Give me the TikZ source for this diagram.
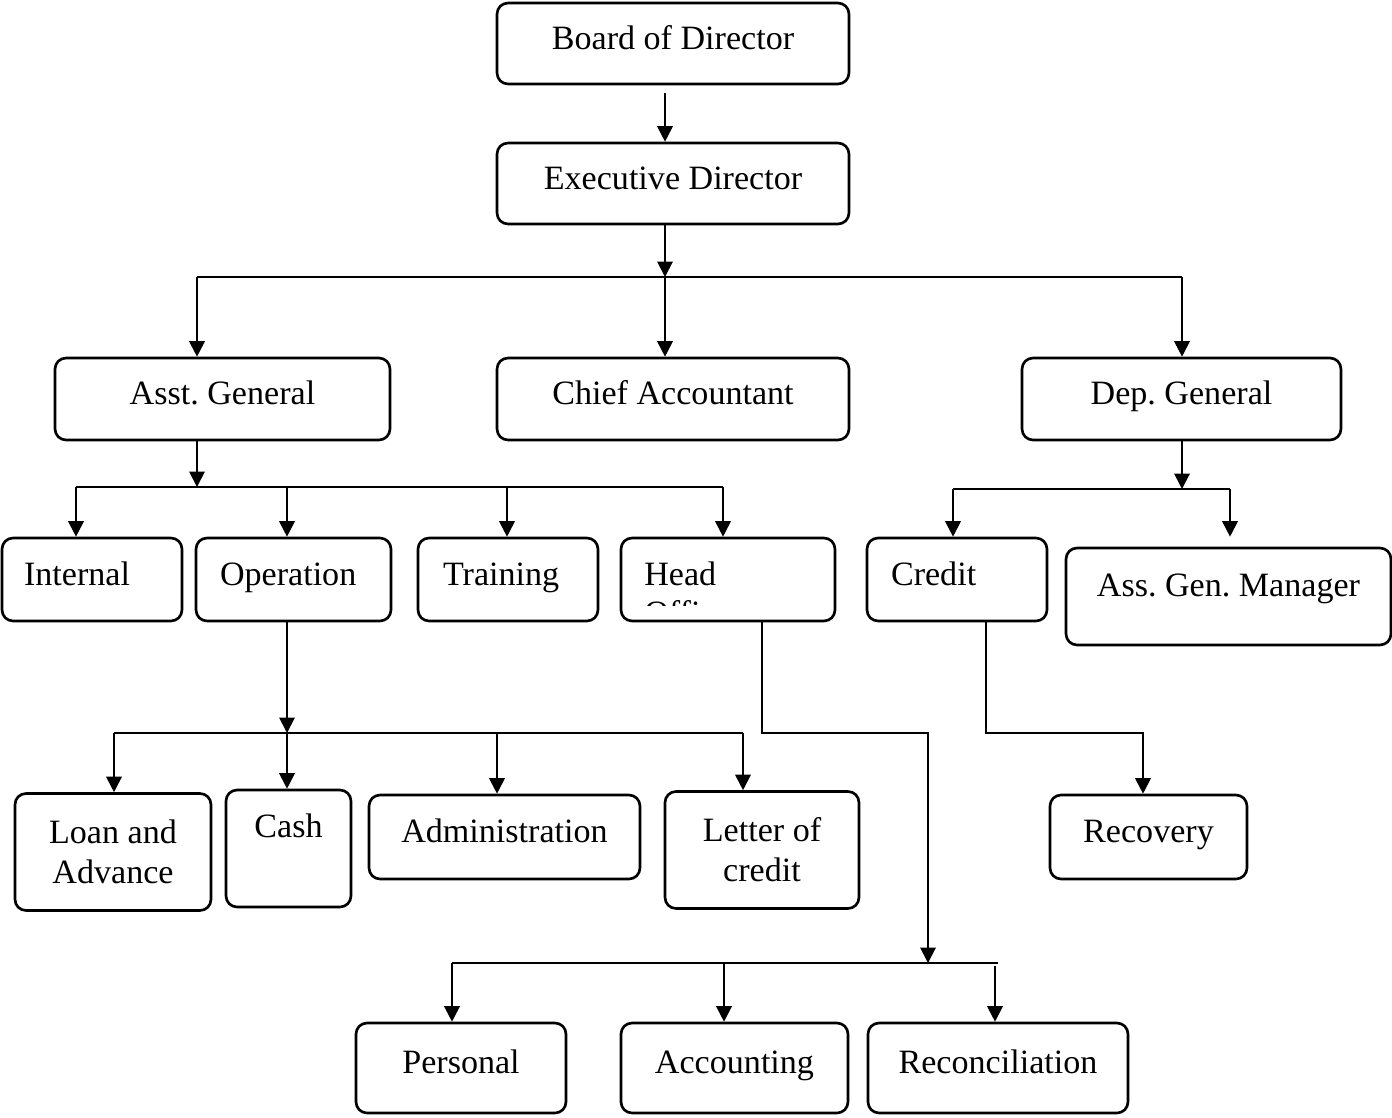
\documentclass[tikz,border=0pt]{standalone}
\usepackage{fontspec}
\setmainfont{Liberation Serif}
\usepackage{tikz}
\usetikzlibrary{arrows.meta}
\frenchspacing

\begin{document}
\begin{tikzpicture}[x=0.02cm,y=-0.02cm,
  mbox/.style={draw,line width=1.5pt,rounded corners=0.22cm,
    font=\fontsize{19.4}{22.7}\selectfont,align=center},
  box/.style={mbox,text height=12.3pt,text depth=5.5pt},
  lbox/.style={box,align=left,inner xsep=0.44cm},
  conn/.style={line width=1.1pt,-{Triangle[width=0.31cm,length=0.31cm]}},
  bus/.style={line width=1.1pt}]
\useasboundingbox (0,0) rectangle (1392,1118);

% top
\node[box,minimum width=7.04cm,minimum height=1.62cm] (board) at (673,43.5) {Board of Director};
\node[box,minimum width=7.04cm,minimum height=1.62cm] (exec) at (673,183.5) {Executive Director};

% second level
\node[box,minimum width=6.70cm,minimum height=1.64cm] (asst) at (222.5,399) {Asst. General};
\node[box,minimum width=7.04cm,minimum height=1.64cm] (chief) at (673,399) {Chief Accountant};
\node[box,minimum width=6.38cm,minimum height=1.64cm] (dep) at (1181.5,399) {Dep. General};

% third level
\node[lbox,text width=2.72cm,minimum height=1.66cm] (internal) at (92,579.5) {Internal};
\node[lbox,text width=2.94cm,inner xsep=0.48cm,minimum height=1.66cm] (operation) at (293.5,579.5) {Operation};
\node[lbox,text width=2.60cm,inner xsep=0.50cm,minimum height=1.66cm] (training) at (508,579.5) {Training};
\node[box,minimum width=4.28cm,minimum height=1.66cm] (headoff) at (728,579.5) {};
\begin{scope}
\clip (623,540) rectangle (833,605);
\node[font=\fontsize{19.4}{22.7}\selectfont,align=left,anchor=north west,inner sep=0pt] (headtxt) at (644,561) {Head\\Office};
\end{scope}
\node[lbox,text width=2.64cm,inner xsep=0.48cm,minimum height=1.66cm] (credit) at (957,579.5) {Credit};
\node[box,minimum width=6.50cm,minimum height=1.94cm,text depth=12.3pt] (agm) at (1228.5,596.5) {Ass. Gen. Manager};

% operation units
\node[mbox,minimum width=3.92cm,minimum height=2.34cm] (loan) at (113,852) {Loan and\\Advance};
\node[box,minimum width=2.50cm,minimum height=2.34cm,text depth=25.3pt] (cash) at (288.5,848.5) {Cash};
\node[box,minimum width=5.42cm,minimum height=1.68cm] (admin) at (504.5,837) {Administration};
\node[mbox,minimum width=3.88cm,minimum height=2.34cm] (letter) at (762,850) {Letter of\\credit};
\node[box,minimum width=3.94cm,minimum height=1.68cm] (recovery) at (1148.5,837) {Recovery};

% head office units
\node[box,minimum width=4.20cm,minimum height=1.80cm] (personal) at (461,1068) {Personal};
\node[box,minimum width=4.54cm,minimum height=1.80cm] (accounting) at (734.5,1068) {Accounting};
\node[box,minimum width=5.20cm,minimum height=1.80cm] (recon) at (998,1068) {Reconciliation};

% bus points
\coordinate (b1) at (665,277);
\coordinate (b1l) at (197,277);
\coordinate (b1r) at (1182,277);
\coordinate (b2) at (197,487);
\coordinate (b2l) at (76,487);
\coordinate (b2op) at (287,487);
\coordinate (b2tr) at (507,487);
\coordinate (b2r) at (723,487);
\coordinate (b3) at (1182,489);
\coordinate (b3l) at (953,489);
\coordinate (b3r) at (1230,489);
\coordinate (b4) at (287,733);
\coordinate (b4l) at (114,733);
\coordinate (b4ad) at (497,733);
\coordinate (b4r) at (743,733);
\coordinate (hk1) at (762,733);
\coordinate (hk2) at (928,733);
\coordinate (b5) at (928,963);
\coordinate (b5l) at (452,963);
\coordinate (b5ac) at (724,963);
\coordinate (b5r) at (998,963);
\coordinate (b5rc) at (995,966);
\coordinate (ck1) at (986,733);
\coordinate (ck2) at (1143,733);

% connectors
\draw[conn,shorten <=0.16cm] (board.south -| b1) -- (exec.north -| b1);
\draw[conn] (exec.south -| b1) -- (b1);
\draw[bus] (b1l) -- (b1r);
\draw[conn] (b1) -- (chief.north -| b1);
\draw[conn] (b1l) -- (asst.north -| b1l);
\draw[conn] (b1r) -- (dep.north -| b1r);

\draw[conn] (asst.south -| b2) -- (b2);
\draw[bus] (b2l) -- (b2r);
\draw[conn] (b2l) -- (internal.north -| b2l);
\draw[conn] (b2op) -- (operation.north -| b2op);
\draw[conn] (b2tr) -- (training.north -| b2tr);
\draw[conn] (b2r) -- (headoff.north -| b2r);

\draw[conn] (dep.south -| b3) -- (b3);
\draw[bus] (b3l) -- (b3r);
\draw[conn] (b3l) -- (credit.north -| b3l);
\draw[conn,shorten >=0.2cm] (b3r) -- (agm.north -| b3r);

\draw[conn] (operation.south -| b4) -- (b4);
\draw[bus] (b4l) -- (b4r);
\draw[conn] (b4l) -- (loan.north -| b4l);
\draw[conn] (b4) -- (cash.north -| b4);
\draw[conn] (b4ad) -- (admin.north -| b4ad);
\draw[conn] (b4r) -- (letter.north -| b4r);

\draw[conn] (headoff.south -| hk1) -- (hk1) -- (hk2) -- (b5);
\draw[bus] (b5l) -- (b5r);
\draw[conn] (b5l) -- (personal.north -| b5l);
\draw[conn] (b5ac) -- (accounting.north -| b5ac);
\draw[conn] (b5rc) -- (recon.north -| b5rc);

\draw[conn] (credit.south -| ck1) -- (ck1) -- (ck2) -- (recovery.north -| ck2);
\end{tikzpicture}
\end{document}
